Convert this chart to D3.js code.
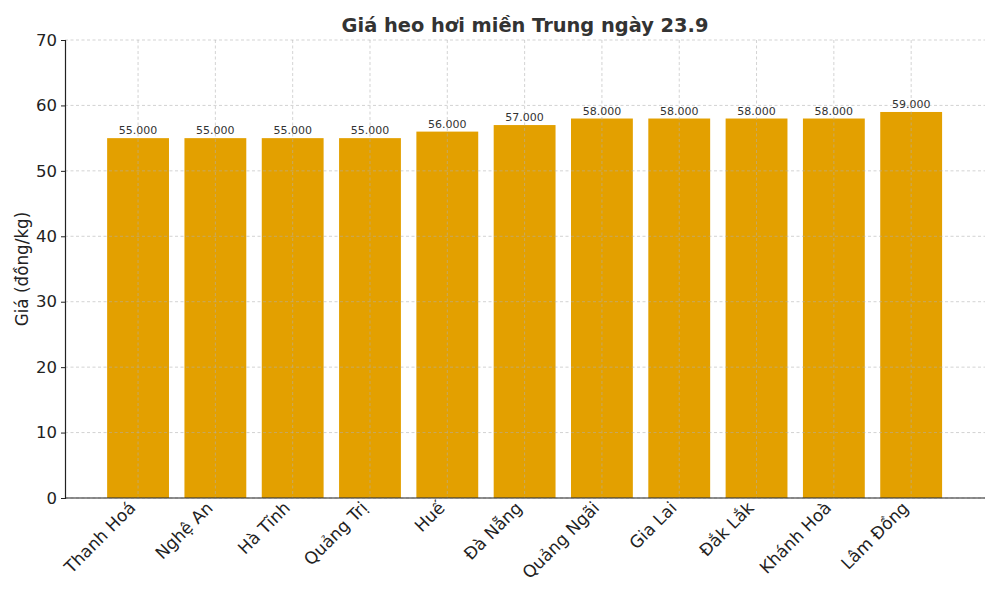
<!DOCTYPE html>
<html><head><meta charset="utf-8">
<script src="https://cdn.jsdelivr.net/npm/d3@7"></script>
<style>body{margin:0;background:#fff}svg{display:block;font-family:"DejaVu Sans",sans-serif}</style>
</head><body><div id="chart"></div>
<script>
const categories = ["Thanh Hoá","Nghệ An","Hà Tĩnh","Quảng Trị","Huế","Đà Nẵng","Quảng Ngãi","Gia Lai","Đắk Lắk","Khánh Hoà","Lâm Đồng"];
const prices = [55, 55, 55, 55, 56, 57, 58, 58, 58, 58, 59];
const priceLabels = ["55.000","55.000","55.000","55.000","56.000","57.000","58.000","58.000","58.000","58.000","59.000"];
const yTicks = [0,10,20,30,40,50,60,70];
const title = "Giá heo hơi miền Trung ngày 23.9";
const yLabel = "Giá (đồng/kg)";

const W=1000,H=600, L=65,R=985,T=40,B=498;
const svg=d3.select("#chart").append("svg").attr("width",W).attr("height",H);
const x=d3.scaleLinear().domain([-0.945,10.955]).range([L,R]);
const y=d3.scaleLinear().domain([0,70]).range([B,T]);
const bw=x(0.8)-x(0);

// bars
svg.append("g").selectAll("rect").data(prices).join("rect")
  .attr("x",(d,i)=>x(i-0.4)).attr("y",d=>y(d)).attr("width",bw).attr("height",d=>y(0)-y(d))
  .attr("fill","#e3a000");

// grid (on top)
const grid=svg.append("g").attr("stroke","#b0b0b0").attr("stroke-opacity",0.7).attr("stroke-width",0.8).attr("stroke-dasharray","3,2.5");
grid.selectAll(".gy").data(yTicks).join("line").attr("x1",L).attr("x2",R).attr("y1",d=>y(d)).attr("y2",d=>y(d));
grid.selectAll(".gx").data(categories).join("line").attr("x1",(d,i)=>x(i)).attr("x2",(d,i)=>x(i)).attr("y1",T).attr("y2",B);

// value labels
svg.append("g").selectAll("text").data(prices).join("text")
  .attr("x",(d,i)=>x(i)).attr("y",d=>y(d)-4).attr("text-anchor","middle")
  .attr("font-size",11).attr("fill","#333").text((d,i)=>priceLabels[i]);

// axes
const yAxis=svg.append("g").attr("transform",`translate(${L},0)`)
  .call(d3.axisLeft(y).tickValues(yTicks).tickSize(4).tickPadding(4));
yAxis.select(".domain").attr("stroke","#222").attr("stroke-width",1.2);
yAxis.selectAll("text").attr("font-size",16.5).attr("fill","#222").attr("font-family","DejaVu Sans");
yAxis.selectAll(".tick line").attr("stroke","#222");

const xAxis=svg.append("g").attr("transform",`translate(0,${B})`)
  .call(d3.axisBottom(x).tickValues(d3.range(categories.length)).tickFormat(i=>categories[i]).tickSize(0).tickSizeOuter(0));
xAxis.select(".domain").attr("stroke","#222").attr("stroke-width",1.2).attr("d",`M${L},0H${R}`);
xAxis.selectAll("text").attr("font-size",17).attr("fill","#222").attr("font-family","DejaVu Sans")
  .attr("text-anchor","end").attr("dy","0").attr("y",0)
  .attr("transform","translate(-2,11) rotate(-45)");

// title & y label
svg.append("text").attr("x",(L+R)/2).attr("y",32).attr("text-anchor","middle")
  .attr("font-size",19.4).attr("font-weight","bold").attr("fill","#333").text(title);
svg.append("text").attr("transform",`translate(28,${(T+B)/2}) rotate(-90)`).attr("text-anchor","middle")
  .attr("font-size",16.8).attr("fill","#222").text(yLabel);
</script></body></html>
